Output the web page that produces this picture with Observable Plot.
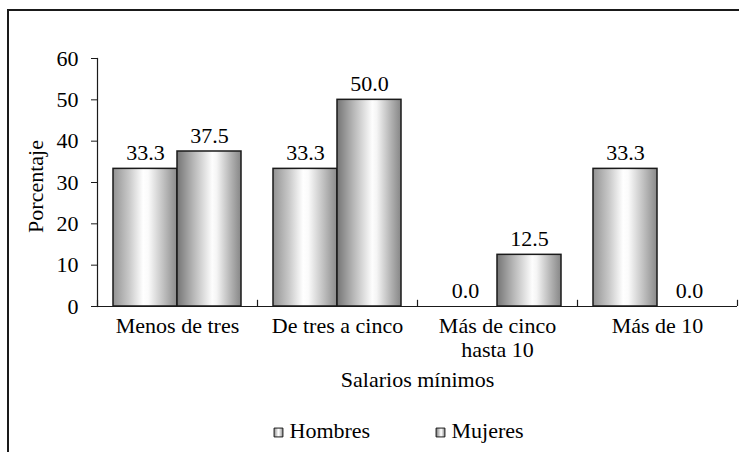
<!DOCTYPE html>
<html>
<head>
<meta charset="utf-8">
<script src="https://cdn.jsdelivr.net/npm/d3@7"></script>
<script src="https://cdn.jsdelivr.net/npm/@observablehq/plot@0.6"></script>
<style>
  html, body { margin: 0; padding: 0; background: #fff; }
  #wrap { position: relative; width: 739px; height: 452px; overflow: hidden; }
  #border { position: absolute; left: 7px; top: 9px; width: 760px; height: 500px;
    border-left: 2px solid #1a1a1a; border-top: 2px solid #1a1a1a; pointer-events: none; }
  #wrap svg, #wrap svg text, #wrap svg g { font-family: "Liberation Serif", "Times New Roman", serif !important; }
</style>
</head>
<body>
<div id="wrap"><div id="border"></div></div>
<script>
const categories = ["Menos de tres", "De tres a cinco", "Más de cinco\nhasta 10", "Más de 10"];
const hombres = [33.3, 33.3, 0.0, 33.3];
const mujeres = [37.5, 50.0, 12.5, 0.0];
const yTicks = [0, 10, 20, 30, 40, 50, 60];
const seriesNames = ["Hombres", "Mujeres"];

const dataH = categories.map((c, i) => ({cat: c, value: hombres[i]}));
const dataM = categories.map((c, i) => ({cat: c, value: mujeres[i]}));
const fs = 22;
const serif = '"Liberation Serif", "Times New Roman", serif';

const chart = Plot.plot({
  width: 739,
  height: 452,
  marginLeft: 97,
  marginRight: 2,
  marginTop: 58,
  marginBottom: 146,
  style: {fontFamily: serif, fontSize: fs + "px", color: "#000", background: "transparent"},
  x: {domain: categories, padding: 0},
  y: {domain: [0, 60]},
  marks: [
    Plot.barY(dataH, {x: "cat", y: "value", insetLeft: 16, insetRight: 80, fill: "url(#gH)", stroke: "#1a1a1a", strokeWidth: 1.5}),
    Plot.barY(dataM, {x: "cat", y: "value", insetLeft: 80, insetRight: 16, fill: "url(#gM)", stroke: "#1a1a1a", strokeWidth: 1.5}),
    Plot.text(dataH, {x: "cat", y: "value", text: d => d.value.toFixed(1), dx: -32, dy: -9, lineAnchor: "bottom", fontSize: fs, fill: "#000"}),
    Plot.text(dataM, {x: "cat", y: "value", text: d => d.value.toFixed(1), dx: 32, dy: -9, lineAnchor: "bottom", fontSize: fs, fill: "#000"}),
    Plot.ruleY([0], {stroke: "#1a1a1a", strokeWidth: 1.2}),
    Plot.frame({anchor: "left", stroke: "#1a1a1a", strokeWidth: 1.2}),
    Plot.ruleX(categories, {x: d => d, dx: -80, y1: 0, y2: 1.5, stroke: "#1a1a1a", strokeWidth: 1.2}),
    Plot.ruleX(categories.slice(-1), {x: d => d, dx: 80, y1: 0, y2: 1.5, stroke: "#1a1a1a", strokeWidth: 1.2}),
    Plot.axisY({ticks: yTicks, tickSize: 6, tickPadding: 13, fontSize: fs, label: null, stroke: "#1a1a1a"}),
    Plot.axisX({tickSize: 0, tickPadding: 9, fontSize: fs, label: null, lineHeight: 1.1}),
    Plot.text(["Porcentaje"], {frameAnchor: "left", dx: -62, dy: 4, rotate: -90, textAnchor: "middle", fontSize: fs, fill: "#000"}),
    Plot.text(["Salarios mínimos"], {frameAnchor: "bottom", dy: 80, fontSize: fs, fill: "#000"}),
    Plot.dot([seriesNames[0]], {frameAnchor: "bottom", dx: -139, dy: 126, symbol: "square", r: 5, fill: "url(#gH)", stroke: "#1a1a1a", strokeWidth: 1}),
    Plot.text([seriesNames[0]], {frameAnchor: "bottom", dx: -128, dy: 131, textAnchor: "start", fontSize: fs, fill: "#000"}),
    Plot.dot([seriesNames[1]], {frameAnchor: "bottom", dx: 23, dy: 126, symbol: "square", r: 5, fill: "url(#gM)", stroke: "#1a1a1a", strokeWidth: 1}),
    Plot.text([seriesNames[1]], {frameAnchor: "bottom", dx: 34, dy: 131, textAnchor: "start", fontSize: fs, fill: "#000"})
  ]
});

const ns = "http://www.w3.org/2000/svg";
const defs = document.createElementNS(ns, "defs");
function grad(id, stops) {
  const g = document.createElementNS(ns, "linearGradient");
  g.setAttribute("id", id);
  g.setAttribute("x1", "0"); g.setAttribute("x2", "1");
  g.setAttribute("y1", "0"); g.setAttribute("y2", "0");
  for (const [o, c] of stops) {
    const s = document.createElementNS(ns, "stop");
    s.setAttribute("offset", o);
    s.setAttribute("stop-color", c);
    g.appendChild(s);
  }
  defs.appendChild(g);
}
grad("gH", [[0, "#939393"], [0.25, "#c8c8c8"], [0.47, "#ffffff"], [0.55, "#fbfbfb"], [0.8, "#bdbdbd"], [1, "#8a8a8a"]]);
grad("gM", [[0, "#757575"], [0.25, "#b5b5b5"], [0.55, "#fdfdfd"], [0.62, "#f5f5f5"], [0.85, "#b0b0b0"], [1, "#868686"]]);
chart.insertBefore(defs, chart.firstChild);
chart.querySelectorAll("text").forEach(t => t.setAttribute("font-family", serif));
chart.style.position = "absolute";
chart.style.left = "0";
chart.style.top = "0";
document.getElementById("wrap").appendChild(chart);
</script>
</body>
</html>
